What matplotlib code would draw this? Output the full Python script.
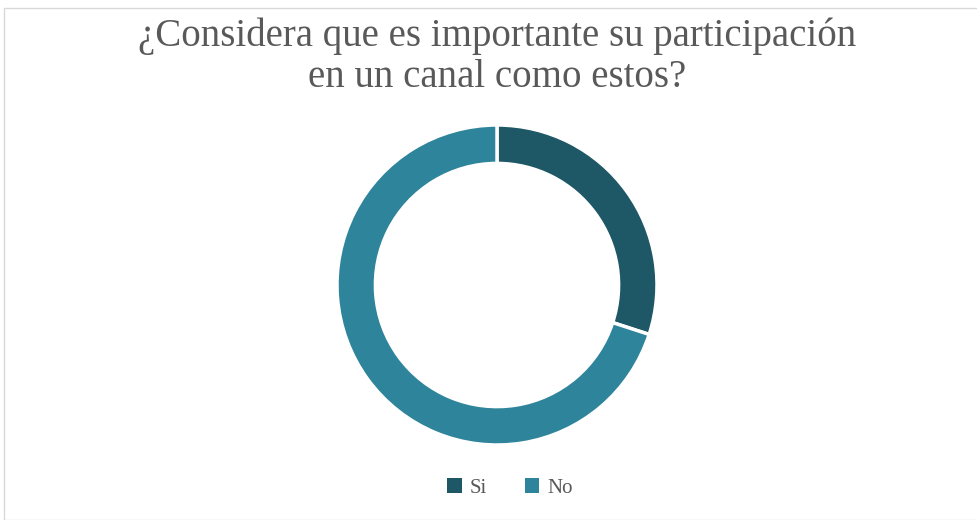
import matplotlib.pyplot as plt
from matplotlib.patches import Rectangle, Patch

labels = ['Si', 'No']
values = [30, 70]
colors = ['#1e5766', '#2e849a']

W, H = 977, 520
fig = plt.figure(figsize=(W / 100, H / 100), dpi=100)

# light frame around the chart area
fig.patches.append(Rectangle((4 / W, 0), 1.2, 1 - 8 / H, transform=fig.transFigure,
                             fill=False, edgecolor='#d9d9d9', linewidth=1))

cx, cy, r = 497, 285, 160
ax = fig.add_axes([(cx - r) / W, (H - cy - r) / H, 2 * r / W, 2 * r / H])
ax.pie(values, colors=colors, startangle=90, counterclock=False, radius=1,
       wedgeprops=dict(width=0.24, edgecolor='white', linewidth=2.5))
ax.set_xlim(-1, 1)
ax.set_ylim(-1, 1)
ax.set_aspect('equal')
ax.axis('off')

fig.text(cx / W, 1 - 57 / H, '¿Considera que es importante su participación\nen un canal como estos?',
         ha='center', va='center', fontsize=28, color='#595959',
         family='Liberation Serif', linespacing=1.15)

handles = [Patch(facecolor=c, edgecolor='none') for c in colors]
fig.legend(handles, labels, loc='center', bbox_to_anchor=(510 / W, 1 - 488 / H),
           ncol=2, frameon=False, handlelength=0.7, handleheight=0.7,
           columnspacing=1.8, handletextpad=0.4,
           prop={'family': 'Liberation Serif', 'size': 15}, labelcolor='#595959')

fig.savefig('out.png', dpi=100)
